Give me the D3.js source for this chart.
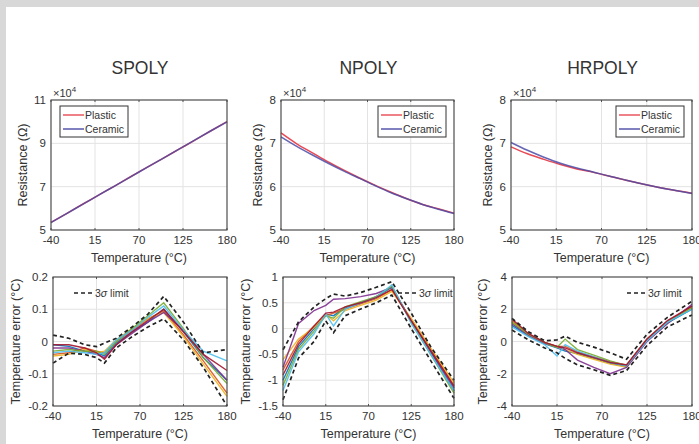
<!DOCTYPE html>
<html>
<head>
<meta charset="utf-8">
<script src="https://d3js.org/d3.v7.min.js"></script>
<style>
body { margin: 0; background: #fff; }
svg text { font-family: "Liberation Sans", Arial, sans-serif; fill: #333; }
</style>
</head>
<body>
<svg id="chart" width="699" height="444"></svg>
<script>
// ---- data ----
const tempTop = [-40, -20, 0, 20, 40, 60, 80, 100, 120, 140, 160, 180];
const tempErr = [-40, -20, 0, 15, 25, 40, 60, 80, 100, 125, 150, 180];
const xTicks = [-40, 15, 70, 125, 180];
const xTickLabels = ["-40", "15", "70", "125", "180"];

// resistance, in units of 1e4 ohm
const spolyPlastic = [5.35, 5.77, 6.20, 6.62, 7.04, 7.47, 7.89, 8.31, 8.73, 9.15, 9.58, 10.0];
const spolyCeramic = [5.34, 5.77, 6.19, 6.62, 7.04, 7.46, 7.89, 8.31, 8.73, 9.16, 9.58, 9.99];
const npolyPlastic = [7.24, 6.99, 6.78, 6.57, 6.38, 6.20, 6.03, 5.87, 5.72, 5.59, 5.49, 5.39];
const npolyCeramic = [7.15, 6.93, 6.73, 6.54, 6.36, 6.19, 6.02, 5.86, 5.72, 5.59, 5.48, 5.38];
const hrpolyPlastic = [6.92, 6.76, 6.63, 6.51, 6.41, 6.33, 6.24, 6.15, 6.06, 5.98, 5.91, 5.85];
const hrpolyCeramic = [7.02, 6.84, 6.68, 6.54, 6.43, 6.34, 6.24, 6.15, 6.06, 5.98, 5.91, 5.84];

// temperature error curves (deg C)
const spolyErr = [
  [-0.01, -0.015, -0.03, -0.035, -0.045, -0.005, 0.03, 0.06, 0.10, 0.03, -0.05, -0.12],
  [-0.04, -0.035, -0.02, -0.03, -0.035, 0.0, 0.035, 0.07, 0.095, 0.02, -0.06, -0.16],
  [-0.045, -0.04, -0.025, -0.035, -0.03, 0.005, 0.04, 0.07, 0.09, 0.015, -0.07, -0.17],
  [-0.02, -0.02, -0.03, -0.04, -0.05, -0.01, 0.025, 0.06, 0.09, 0.035, -0.04, -0.12],
  [-0.03, -0.025, -0.03, -0.03, -0.04, 0.0, 0.04, 0.08, 0.12, 0.04, -0.05, -0.13],
  [-0.035, -0.03, -0.035, -0.04, -0.035, 0.005, 0.035, 0.075, 0.11, 0.035, -0.03, -0.06],
  [-0.01, -0.01, -0.02, -0.035, -0.055, -0.01, 0.03, 0.065, 0.10, 0.03, -0.04, -0.09]
];
const spolyUpper = [0.02, 0.01, -0.01, -0.016, -0.005, 0.01, 0.045, 0.085, 0.14, 0.06, -0.035, -0.025];
const spolyLower = [-0.067, -0.036, -0.04, -0.05, -0.067, -0.02, 0.015, 0.045, 0.07, 0.005, -0.08, -0.2];

const npolyErr = [
  [-1.0, -0.35, 0.0, 0.28, 0.25, 0.40, 0.50, 0.62, 0.80, 0.15, -0.45, -1.2],
  [-0.8, -0.25, 0.05, 0.25, 0.30, 0.38, 0.48, 0.58, 0.75, 0.18, -0.40, -1.1],
  [-0.6, -0.2, 0.02, 0.28, 0.15, 0.35, 0.45, 0.55, 0.72, 0.20, -0.38, -1.05],
  [-0.75, 0.1, 0.35, 0.45, 0.57, 0.58, 0.62, 0.68, 0.80, 0.15, -0.45, -1.15],
  [-1.1, -0.4, -0.05, 0.25, 0.20, 0.42, 0.52, 0.62, 0.82, 0.12, -0.50, -1.25],
  [-1.2, -0.45, -0.1, 0.28, 0.05, 0.38, 0.50, 0.60, 0.85, 0.10, -0.50, -1.2],
  [-0.9, -0.3, 0.05, 0.30, 0.32, 0.42, 0.50, 0.60, 0.76, 0.15, -0.42, -1.12]
];
const npolyUpper = [-0.41, 0.13, 0.42, 0.58, 0.67, 0.63, 0.70, 0.80, 0.91, 0.30, -0.35, -1.0];
const npolyLower = [-1.38, -0.57, -0.25, 0.15, -0.08, 0.25, 0.38, 0.50, 0.65, 0.0, -0.62, -1.35];

const hrpolyErr = [
  [1.0, 0.35, -0.15, -0.4, -0.6, -0.75, -1.05, -1.35, -1.55, 0.05, 1.15, 2.0],
  [1.3, 0.45, -0.05, -0.3, -0.3, -0.65, -0.95, -1.25, -1.45, 0.15, 1.25, 2.2],
  [1.2, 0.4, -0.1, -0.35, -0.5, -0.8, -1.1, -1.4, -1.6, 0.1, 1.2, 2.1],
  [1.1, 0.4, -0.1, -0.3, -0.5, -1.15, -1.6, -2.0, -1.6, 0.0, 1.1, 2.3],
  [1.2, 0.45, -0.05, -0.35, 0.15, -0.5, -0.85, -1.2, -1.5, 0.1, 1.2, 2.1],
  [0.9, 0.3, -0.2, -0.9, -0.2, -0.6, -0.95, -1.3, -1.5, 0.05, 1.2, 2.0],
  [1.4, 0.5, -0.05, -0.3, -0.4, -0.7, -1.0, -1.3, -1.45, 0.15, 1.3, 2.2]
];
const hrpolyUpper = [1.44, 0.6, 0.05, 0.1, 0.33, -0.05, -0.35, -0.7, -1.1, 0.45, 1.5, 2.5];
const hrpolyLower = [0.71, 0.1, -0.4, -0.7, -1.05, -1.45, -1.75, -2.1, -1.8, -0.25, 0.9, 1.65];

const titles = ["SPOLY", "NPOLY", "HRPOLY"];
const seriesColors = ["#0072BD", "#D95319", "#EDB120", "#7E2F8E", "#77AC30", "#4DBEEE", "#A2142F"];

// ---- drawing ----
const svg = d3.select("#chart");
svg.append("rect").attr("width", 699).attr("height", 444).attr("fill", "#fff");
svg.append("rect").attr("x", 0).attr("y", 0).attr("width", 699).attr("height", 7).attr("fill", "#d8d8d8");
svg.append("rect").attr("x", 0).attr("y", 0).attr("width", 6).attr("height", 444).attr("fill", "#d8d8d8");

function drawAxes(box, yDomain, yTicks, yLabels, yTitle, yTitleX) {
  const x = d3.scaleLinear().domain([-40, 180]).range([box.x0, box.x1]);
  const y = d3.scaleLinear().domain(yDomain).range([box.y1, box.y0]);
  const g = svg.append("g");
  // grid
  g.selectAll(".gx").data(xTicks).enter().append("line")
    .attr("x1", d => x(d)).attr("x2", d => x(d)).attr("y1", box.y0).attr("y2", box.y1)
    .attr("stroke", "#e3e3e3").attr("stroke-width", 1);
  g.selectAll(".gy").data(yTicks).enter().append("line")
    .attr("x1", box.x0).attr("x2", box.x1).attr("y1", d => y(d)).attr("y2", d => y(d))
    .attr("stroke", "#e3e3e3").attr("stroke-width", 1);
  // tick labels
  g.selectAll(".tx").data(xTicks).enter().append("text")
    .attr("x", d => x(d)).attr("y", box.y1 + 14)
    .attr("text-anchor", "middle").attr("font-size", 11.5)
    .text((d, i) => xTickLabels[i]);
  g.selectAll(".ty").data(yTicks).enter().append("text")
    .attr("x", box.x0 - 5).attr("y", d => y(d) + 4)
    .attr("text-anchor", "end").attr("font-size", 11.5)
    .text((d, i) => yLabels[i]);
  // axis titles
  g.append("text").attr("x", (box.x0 + box.x1) / 2).attr("y", box.y1 + 32)
    .attr("text-anchor", "middle").attr("font-size", 12.5).text("Temperature (°C)");
  const cy = (box.y0 + box.y1) / 2;
  g.append("text").attr("transform", `translate(${yTitleX},${cy}) rotate(-90)`)
    .attr("text-anchor", "middle").attr("font-size", 12.5).text(yTitle);
  return { x, y, g };
}

function drawBox(g, box) {
  // small inward ticks
  const x = d3.scaleLinear().domain([-40, 180]).range([box.x0, box.x1]);
  g.selectAll(".tk").data(xTicks).enter().append("line")
    .attr("x1", d => x(d)).attr("x2", d => x(d)).attr("y1", box.y1).attr("y2", box.y1 - 2)
    .attr("stroke", "#555");
  g.selectAll(".tk2").data(xTicks).enter().append("line")
    .attr("x1", d => x(d)).attr("x2", d => x(d)).attr("y1", box.y0).attr("y2", box.y0 + 2)
    .attr("stroke", "#555");
  g.append("rect").attr("x", box.x0).attr("y", box.y0)
    .attr("width", box.x1 - box.x0).attr("height", box.y1 - box.y0)
    .attr("fill", "none").attr("stroke", "#474747").attr("stroke-width", 1.1);
}

const topBoxes = [
  { x0: 51, x1: 227, y0: 100, y1: 230 },
  { x0: 281, x1: 454, y0: 100, y1: 230 },
  { x0: 511, x1: 692, y0: 100, y1: 230 }
];
const botBoxes = [
  { x0: 53, x1: 227, y0: 277, y1: 406 },
  { x0: 283, x1: 454, y0: 277, y1: 406 },
  { x0: 512, x1: 692, y0: 277, y1: 406 }
];

const topSeries = [
  [spolyPlastic, spolyCeramic],
  [npolyPlastic, npolyCeramic],
  [hrpolyPlastic, hrpolyCeramic]
];
const topY = [
  { domain: [5, 11], ticks: [5, 7, 9, 11], labels: ["5", "7", "9", "11"] },
  { domain: [5, 8], ticks: [5, 6, 7, 8], labels: ["5", "6", "7", "8"] },
  { domain: [5, 8], ticks: [5, 6, 7, 8], labels: ["5", "6", "7", "8"] }
];
const legendLeft = [true, false, false];
const topTitleX = [27, 262, 492];

topBoxes.forEach((box, i) => {
  const { x, y, g } = drawAxes(box, topY[i].domain, topY[i].ticks, topY[i].labels, "Resistance (Ω)", topTitleX[i]);
  // panel title
  svg.append("text").attr("x", (box.x0 + box.x1) / 2 + 1).attr("y", 74)
    .attr("text-anchor", "middle").attr("font-size", 17.5).text(titles[i]);
  // x10^4 multiplier
  const m = svg.append("text").attr("x", box.x0 + 2).attr("y", 97).attr("font-size", 11).attr("fill", "#555");
  m.append("tspan").text("×10");
  m.append("tspan").attr("dy", -5).attr("font-size", 8).text("4");

  const line = d3.line().x((d, j) => x(tempTop[j])).y(d => y(d)).curve(d3.curveMonotoneX);
  const cols = ["#e84a55", "#4b4aa6"];
  topSeries[i].forEach((s, k) => {
    g.append("path").datum(s).attr("d", line)
      .attr("fill", "none").attr("stroke", cols[k]).attr("stroke-width", 1.5)
      .attr("stroke-opacity", k === 1 ? 0.85 : 1);
  });
  drawBox(g, box);

  // legend
  const lw = 68, lh = 31;
  const lx = legendLeft[i] ? box.x0 + 9 : box.x1 - lw - 8;
  const ly = box.y0 + 6;
  g.append("rect").attr("x", lx).attr("y", ly).attr("width", lw).attr("height", lh)
    .attr("fill", "#fff").attr("stroke", "#333").attr("stroke-width", 1);
  ["Plastic", "Ceramic"].forEach((name, k) => {
    const yy = ly + 9 + k * 14;
    g.append("line").attr("x1", lx + 3).attr("x2", lx + 24).attr("y1", yy).attr("y2", yy)
      .attr("stroke", cols[k]).attr("stroke-width", 1.4);
    g.append("text").attr("x", lx + 25).attr("y", yy + 4).attr("font-size", 10.5).text(name);
  });
});

const botSeries = [spolyErr, npolyErr, hrpolyErr];
const botUpper = [spolyUpper, npolyUpper, hrpolyUpper];
const botLower = [spolyLower, npolyLower, hrpolyLower];
const botY = [
  { domain: [-0.2, 0.2], ticks: [-0.2, -0.1, 0, 0.1, 0.2], labels: ["-0.2", "-0.1", "0", "0.1", "0.2"] },
  { domain: [-1.5, 1], ticks: [-1.5, -1, -0.5, 0, 0.5, 1], labels: ["-1.5", "-1", "-0.5", "0", "0.5", "1"] },
  { domain: [-4, 4], ticks: [-4, -2, 0, 2, 4], labels: ["-4", "-2", "0", "2", "4"] }
];
const botTitleX = [20, 250, 487];
const sigmaLegendX = [74, 398, 627];

botBoxes.forEach((box, i) => {
  const { x, y, g } = drawAxes(box, botY[i].domain, botY[i].ticks, botY[i].labels, "Temperature error (°C)", botTitleX[i]);
  const line = d3.line().x((d, j) => x(tempErr[j])).y(d => y(d));
  botSeries[i].forEach((s, k) => {
    g.append("path").datum(s).attr("d", line)
      .attr("fill", "none").attr("stroke", seriesColors[k]).attr("stroke-width", 1.4)
      .attr("stroke-opacity", 0.9);
  });
  [botUpper[i], botLower[i]].forEach(s => {
    g.append("path").datum(s).attr("d", line)
      .attr("fill", "none").attr("stroke", "#222").attr("stroke-width", 1.7)
      .attr("stroke-dasharray", "4,3");
  });
  drawBox(g, box);

  // 3 sigma legend
  const lx = sigmaLegendX[i], ly = 293;
  g.append("line").attr("x1", lx).attr("x2", lx + 20).attr("y1", ly).attr("y2", ly)
    .attr("stroke", "#222").attr("stroke-width", 1.7).attr("stroke-dasharray", "4,3");
  const t = g.append("text").attr("x", lx + 21).attr("y", ly + 4).attr("font-size", 10.5);
  t.append("tspan").text("3");
  t.append("tspan").attr("font-style", "italic").text("σ");
  t.append("tspan").text(" limit");
});
</script>
</body>
</html>
